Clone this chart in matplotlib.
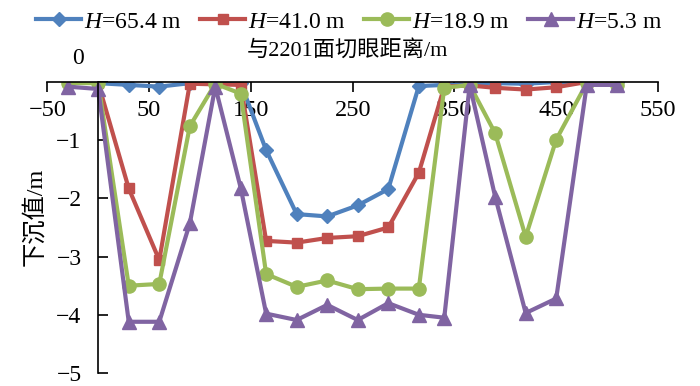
import matplotlib
matplotlib.use('Agg')
import matplotlib.pyplot as plt

plt.rcParams['font.family'] = ['Liberation Serif', 'Noto Sans CJK SC']
plt.rcParams['axes.unicode_minus'] = True
plt.rcParams['mathtext.fontset'] = 'custom'
plt.rcParams['mathtext.it'] = 'Liberation Serif:italic'
plt.rcParams['mathtext.rm'] = 'Liberation Serif'

# distance from the 2201 open-off cut (m)
x_all = [-30, 0, 30, 60, 90, 115, 140, 165, 195, 225, 255, 285, 315, 340, 365, 390, 420, 450, 480, 510]
x_blue = x_all[1:]

# subsidence (m) for each depth
h654 = [-0.02, -0.05, -0.08, -0.02, 0.0, -0.02, -1.17, -2.27, -2.31, -2.12, -1.84, -0.07,
        -0.05, -0.04, -0.02, -0.03, 0.0, 0.0, 0.0]
h410 = [0.03, -0.02, -1.83, -3.06, -0.03, -0.04, -0.05, -2.73, -2.76, -2.68, -2.65, -2.5,
        -1.56, -0.08, -0.06, -0.1, -0.13, -0.09, 0.0, -0.02]
h189 = [-0.02, -0.02, -3.5, -3.47, -0.76, -0.03, -0.2, -3.3, -3.52, -3.41, -3.56, -3.55,
        -3.55, -0.1, -0.05, -0.88, -2.66, -0.99, -0.02, -0.05]
h53 = [-0.08, -0.12, -4.12, -4.12, -2.43, -0.08, -1.82, -3.98, -4.09, -3.83, -4.09, -3.8,
       -4.0, -4.05, -0.05, -1.97, -3.97, -3.72, -0.05, -0.05]

labels = ['$H$=65.4 m', '$H$=41.0 m', '$H$=18.9 m', '$H$=5.3 m']

fig = plt.figure(figsize=(7, 3.86), dpi=100)
ax = fig.add_axes([0.0676, 0.0337, 0.8724, 0.7539])

lw = 3.0
ax.plot(x_blue, h654, color='#4F81BD', lw=lw, marker='D', ms=7.5, label=labels[0])
ax.plot(x_all, h410, color='#C0504D', lw=lw, marker='s', ms=7.5, label=labels[1])
ax.plot(x_all, h189, color='#9BBB59', lw=lw, marker='o', ms=9.5, label=labels[2])
ax.plot(x_all, h53, color='#8064A2', lw=lw, marker='^', ms=10, label=labels[3])

ax.set_xlim(-50, 550)
ax.set_ylim(-5, 0)
ax.set_xticks([-50, 50, 150, 250, 350, 450, 550])
ax.set_yticks([-5, -4, -3, -2, -1, 0])
ax.set_yticklabels(['\u22125', '\u22124', '\u22123', '\u22122', '\u22121', ''])
ax.set_xticklabels(['\u221250', '50', '150', '250', '350', '450', '550'])

ax.spines['right'].set_visible(False)
ax.spines['top'].set_visible(False)
ax.spines['bottom'].set_position(('data', 0))
ax.spines['left'].set_position(('data', 0))
for s in ['bottom', 'left']:
    ax.spines[s].set_linewidth(1.2)
ax.tick_params(axis='x', direction='out', length=7, width=1.2, pad=6, labelsize=17.5)
ax.tick_params(axis='y', direction='in', length=7, width=1.2, pad=12, labelsize=17)

fig.text(78 / 700, 1 - 58 / 386, '0', fontsize=17, ha='center', va='center')
fig.text(347 / 700, 1 - 50 / 386, '与2201面切眼距离/m', fontsize=16, ha='center', va='center')
fig.text(35 / 700, 1 - 217 / 386, '下沉值/m', fontsize=17.5, ha='center', va='center', rotation=90)

fig.legend(loc='center', bbox_to_anchor=(0.4986, 1 - 22 / 386), ncol=4, frameon=False,
           fontsize=17, handlelength=1.9, handletextpad=0.1, columnspacing=0.8)

fig.savefig('out.png', dpi=100)
